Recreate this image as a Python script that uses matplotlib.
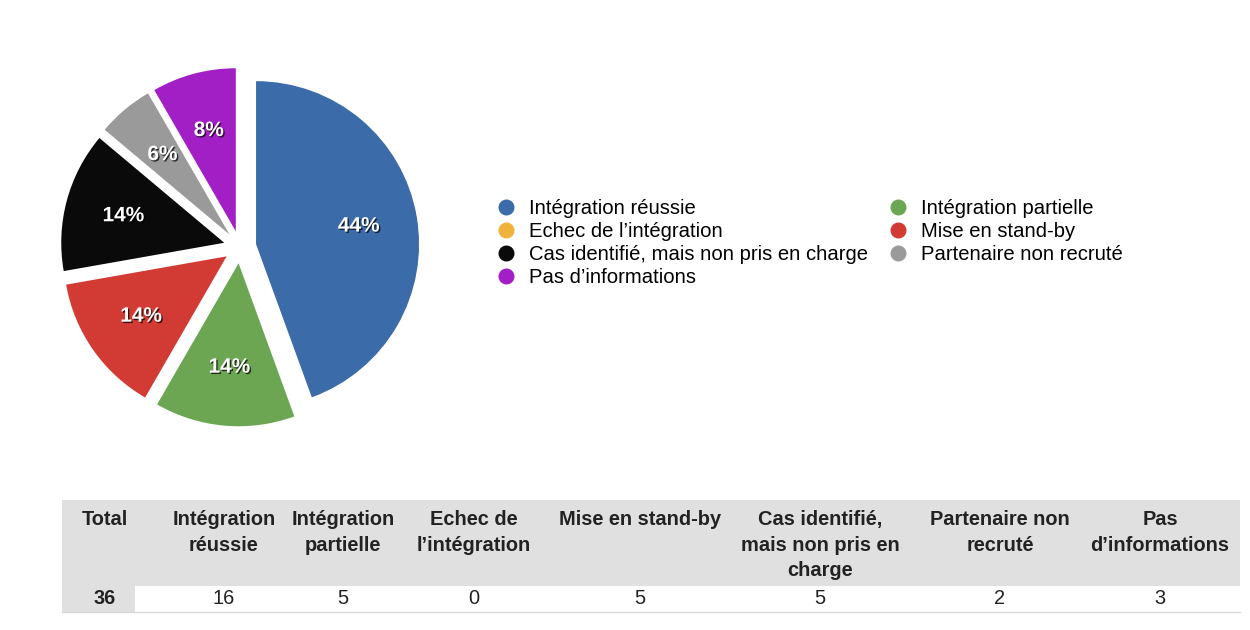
import matplotlib.pyplot as plt
import matplotlib.patheffects as pe
from matplotlib.lines import Line2D
from matplotlib.patches import Rectangle

plt.rcParams['font.family'] = ['Liberation Sans', 'DejaVu Sans']

# ----------------------------- data -----------------------------------------
categories = [
    "Intégration réussie",
    "Intégration partielle",
    "Echec de l’intégration",
    "Mise en stand-by",
    "Cas identifié, mais non pris en charge",
    "Partenaire non recruté",
    "Pas d’informations",
]
counts = [16, 5, 0, 5, 5, 2, 3]
colors = ["#3b6ba8", "#6ca653", "#f0b23a", "#d23b34", "#0a0a0a", "#9a9a9a", "#a11fc4"]

# table headers (line breaks as in the printed table)
table_headers = [
    "Total",
    "Intégration\nréussie",
    "Intégration\npartielle",
    "Echec de\nl’intégration",
    "Mise en stand-by",
    "Cas identifié,\nmais non pris en\ncharge",
    "Partenaire non\nrecruté",
    "Pas\nd’informations",
]
total = sum(counts)

W, H = 1250, 630
fig = plt.figure(figsize=(W / 100, H / 100), dpi=100)
fig.patch.set_facecolor('white')

# ----------------------------- pie ------------------------------------------
cx, cy, R = 240, 247, 163
span = 1.25 * R
ax = fig.add_axes([(cx - span) / W, 1 - (cy + span) / H, 2 * span / W, 2 * span / H])

shown = [(c, col) for c, col in zip(counts, colors) if c > 0]
wedges, _, autotexts = ax.pie(
    [c for c, _ in shown],
    colors=[col for _, col in shown],
    explode=[0.1] * len(shown),
    startangle=90,
    counterclock=False,
    autopct=lambda p: f"{p:.0f}%",
    pctdistance=0.64,
    wedgeprops=dict(linewidth=0),
)
ax.set_xlim(-1.25, 1.25)
ax.set_ylim(-1.25, 1.25)
ax.set_aspect('equal')

for t in autotexts:
    t.set_color('white')
    t.set_fontsize(15)
    t.set_fontweight('bold')
    t.set_path_effects([
        pe.SimplePatchShadow(offset=(1, -1), shadow_rgbFace='black', alpha=0.7),
        pe.Normal(),
    ])

# ----------------------------- legend ---------------------------------------
# two columns, filled column by column
legend_order = [0, 2, 4, 6, 1, 3, 5]
handles = [
    Line2D([], [], linestyle='none', marker='o', markersize=10.5,
           markerfacecolor=colors[i], markeredgecolor=colors[i])
    for i in legend_order
]
fig.legend(
    handles,
    [categories[i] for i in legend_order],
    ncol=2,
    loc='upper left',
    bbox_to_anchor=(498 / W, 1 - 199 / H),
    frameon=False,
    fontsize=14.6,
    handlelength=0.8,
    handletextpad=0.72,
    columnspacing=1.1,
    labelspacing=0.2,
    borderpad=0,
    borderaxespad=0,
)

# ----------------------------- table ----------------------------------------
tax = fig.add_axes([0, 0, 1, 1])
tax.set_xlim(0, W)
tax.set_ylim(H, 0)
tax.axis('off')

col_x = [105, 224, 343, 474, 640, 820, 1000, 1160]
head_top, head_bot = 500, 586
row_bot = 612

tax.add_patch(Rectangle((62, head_top), 1240 - 62, head_bot - head_top,
                        facecolor='#e0e0e0', edgecolor='none'))
tax.add_patch(Rectangle((62, head_bot), 135 - 62, row_bot - head_bot,
                        facecolor='#e0e0e0', edgecolor='none'))
tax.plot([62, 1240], [row_bot, row_bot], color='#d8d8d8', linewidth=1)

for x, label in zip(col_x, table_headers):
    tax.text(x, 510, label, ha='center', va='top', fontsize=14.4,
             fontweight='bold', color='#222222', linespacing=1.45)

row_values = [total] + counts
for i, (x, v) in enumerate(zip(col_x, row_values)):
    tax.text(x, 599, str(v), ha='center', va='center', fontsize=14.4,
             fontweight='bold' if i == 0 else 'normal', color='#222222')

fig.savefig('out.png', dpi=100)
